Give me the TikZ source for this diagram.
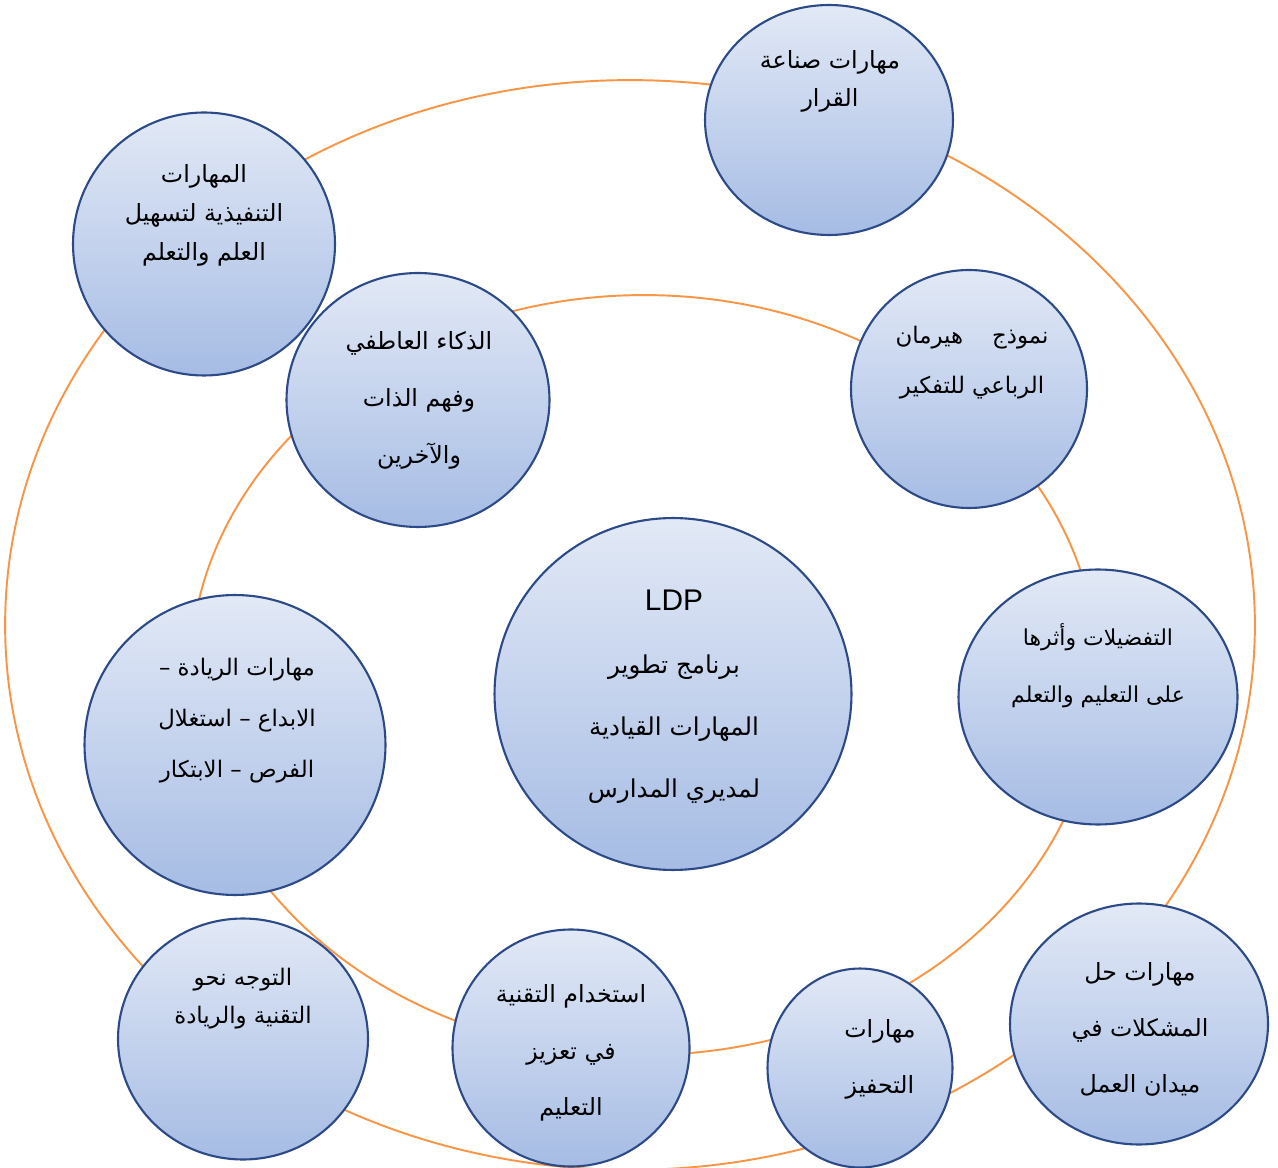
\documentclass[tikz,border=0pt]{standalone}
\usepackage{fontspec}
\usetikzlibrary{shapes.geometric}
\TeXXeTstate=1
\newfontfamily\arabicfont[Script=Arabic]{DejaVu Sans}
\newfontfamily\latinfont{Liberation Sans}
\newcommand\ar[1]{\beginR #1\endR}
\newcommand\fs[2]{\arabicfont\fontsize{#1}{#2}\selectfont}
\definecolor{ringorange}{RGB}{247,150,70}
\definecolor{bubbletop}{RGB}{226,233,246}
\definecolor{bubblebot}{RGB}{166,188,228}
\definecolor{bubbleedge}{RGB}{44,74,135}
\begin{document}
\begin{tikzpicture}[x=0.02cm,y=-0.02cm,
  ring/.style={draw=ringorange,line width=1.1pt},
  bubble/.style={shape=ellipse,draw=bubbleedge,line width=1.2pt,inner sep=0pt,
    top color=bubbletop,bottom color=bubblebot},
  lbl/.style={align=center,inner sep=0pt,text=black}]
\useasboundingbox (0,0) rectangle (1278,1168);
\fill[white] (0,0) rectangle (1278,1168);
% rings
\draw[ring] (630,625) ellipse [x radius=12.5cm,y radius=10.9cm];
\draw[ring] (644,675) ellipse [x radius=9.08cm,y radius=7.6cm];
% bubbles
\node[bubble,minimum width=4.96cm,minimum height=4.60cm] (b1) at (829,120) {};
\node[bubble,minimum width=5.24cm,minimum height=5.26cm] (b2) at (204,244) {};
\node[bubble,minimum width=5.26cm,minimum height=5.08cm] (b3) at (418,400) {};
\node[bubble,minimum width=4.72cm,minimum height=4.76cm] (b4) at (969,389) {};
\node[bubble,minimum width=7.14cm,minimum height=7.04cm] (b5) at (673,694) {};
\node[bubble,minimum width=5.58cm,minimum height=5.10cm] (b6) at (1098,697) {};
\node[bubble,minimum width=6.02cm,minimum height=6.00cm] (b7) at (235,745) {};
\node[bubble,minimum width=5.00cm,minimum height=4.82cm] (b8) at (243,1039) {};
\node[bubble,minimum width=4.74cm,minimum height=4.74cm] (b9) at (571,1048) {};
\node[bubble,minimum width=3.70cm,minimum height=3.98cm] (b10) at (860,1068) {};
\node[bubble,minimum width=5.16cm,minimum height=4.82cm] (b11) at (1139,1024) {};
% labels
\node[lbl,font=\fs{13.5}{21.6}] (t1) at (830,81) {\ar{مهارات صناعة}\\\ar{القرار}};
\node[lbl,font=\fs{13.5}{22.2}] (t2) at (204,215) {\ar{المهارات}\\\ar{التنفيذية لتسهيل}\\\ar{العلم والتعلم}};
\node[lbl,font=\fs{13.5}{32.4}] (t3) at (419,400) {\ar{الذكاء العاطفي}\\\ar{وفهم الذات}\\\ar{والآخرين}};
\node[lbl,font=\fs{13}{28.5}] (t4) at (972,363) {\ar{نموذج\ \ \ \ هيرمان}\\\ar{الرباعي للتفكير}};
\node[lbl,font=\fs{14}{35.4}] (t5) at (674,697) {{\latinfont\fontsize{17}{20}\selectfont LDP}\\\ar{برنامج تطوير}\\\ar{المهارات القيادية}\\\ar{لمديري المدارس}};
\node[lbl,font=\fs{12.5}{32.4}] (t6) at (1098,666) {\ar{التفضيلات وأثرها}\\\ar{على التعليم والتعلم}};
\node[lbl,font=\fs{13}{29}] (t7) at (237,721) {\ar{مهارات الريادة –}\\\ar{الابداع – استغلال}\\\ar{الفرص – الابتكار}};
\node[lbl,font=\fs{13}{21.6}] (t8) at (243,999) {\ar{التوجه نحو}\\\ar{التقنية والريادة}};
\node[lbl,font=\fs{13.5}{32.1}] (t9) at (571,1053) {\ar{استخدام التقنية}\\\ar{في تعزيز}\\\ar{التعليم}};
\node[lbl,font=\fs{13.5}{31.9}] (t10) at (880,1059) {\ar{مهارات}\\\ar{التحفيز}};
\node[lbl,font=\fs{13.5}{31.9}] (t11) at (1140,1029) {\ar{مهارات حل}\\\ar{المشكلات في}\\\ar{ميدان العمل}};
\end{tikzpicture}
\end{document}
